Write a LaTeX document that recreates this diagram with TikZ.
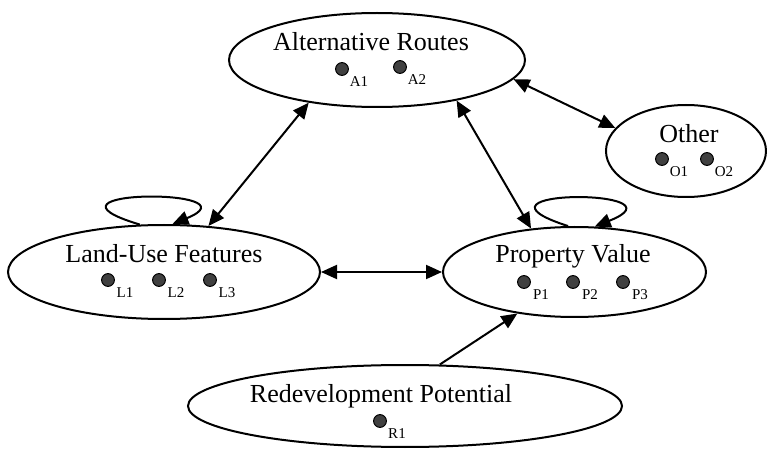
\documentclass[tikz,border=0pt]{standalone}
\usepackage{fontspec}
\setmainfont{Liberation Serif}
\usetikzlibrary{shapes.geometric,arrows.meta}

\tikzset{
  factor/.style={ellipse,draw,line width=1pt,inner sep=0pt},
  title/.style={font=\fontsize{13}{15}\selectfont,anchor=base,inner sep=0pt},
  dot/.style={circle,draw,line width=0.5pt,fill=black!75,inner sep=0pt,minimum size=6.4pt},
  sub/.style={font=\fontsize{7.5}{9}\selectfont,inner sep=0pt},
  link/.style={line width=1pt,{Triangle[length=8pt,width=7pt]}-{Triangle[length=8pt,width=7pt]}},
  oneway/.style={line width=1pt,-{Triangle[length=8pt,width=7pt]}}
}

\begin{document}
\begin{tikzpicture}[x=0.5pt,y=-0.5pt]
\useasboundingbox (0,0) rectangle (767,449);

% Factors
\node[factor,minimum width=148pt,minimum height=47pt] (alt) at (377,60) {};
\node[factor,minimum width=156pt,minimum height=47pt] (lu) at (164,272) {};
\node[factor,minimum width=131.5pt,minimum height=45pt] (pv) at (574.5,272) {};
\node[factor,minimum width=217pt,minimum height=41pt] (redev) at (405,406) {};
\node[factor,minimum width=80pt,minimum height=46pt] (other) at (686,151) {};

\node[title] (altname) at (371,51) {Alternative Routes};
\node[title] (luname) at (164,263) {Land-Use Features};
\node[title] (pvname) at (573,263) {Property Value};
\node[title] (redevname) at (381,402) {Redevelopment Potential};
\node[title] (othername) at (689,143) {Other};

% Indicators
\foreach \n/\x/\y in {A1/342/69,A2/400/67,O1/662/159,O2/707/159,
    L1/108/280,L2/159/280,L3/210/280,P1/524/282,P2/573/282,P3/623/282,R1/380/421} {
  \node[dot] (\n) at (\x,\y) {};
  \node[sub] at ([shift={(17,13)}]\n) {\n};
}

% Relations
\draw[link] (alt.212) -- (lu.46);
\draw[link] (alt.333) -- (pv.135);
\draw[link] (alt.352) -- (other.162);
\draw[link] (lu.east) -- (pv.west);
\draw[oneway] (redev.50) -- (pv.216);
\draw[oneway] (lu.117) .. controls +(-120,-36) and +(88,-36) .. (lu.80);
\draw[oneway] (pv.98) .. controls +(-118,-38) and +(96,-38) .. (pv.66);
\end{tikzpicture}
\end{document}
